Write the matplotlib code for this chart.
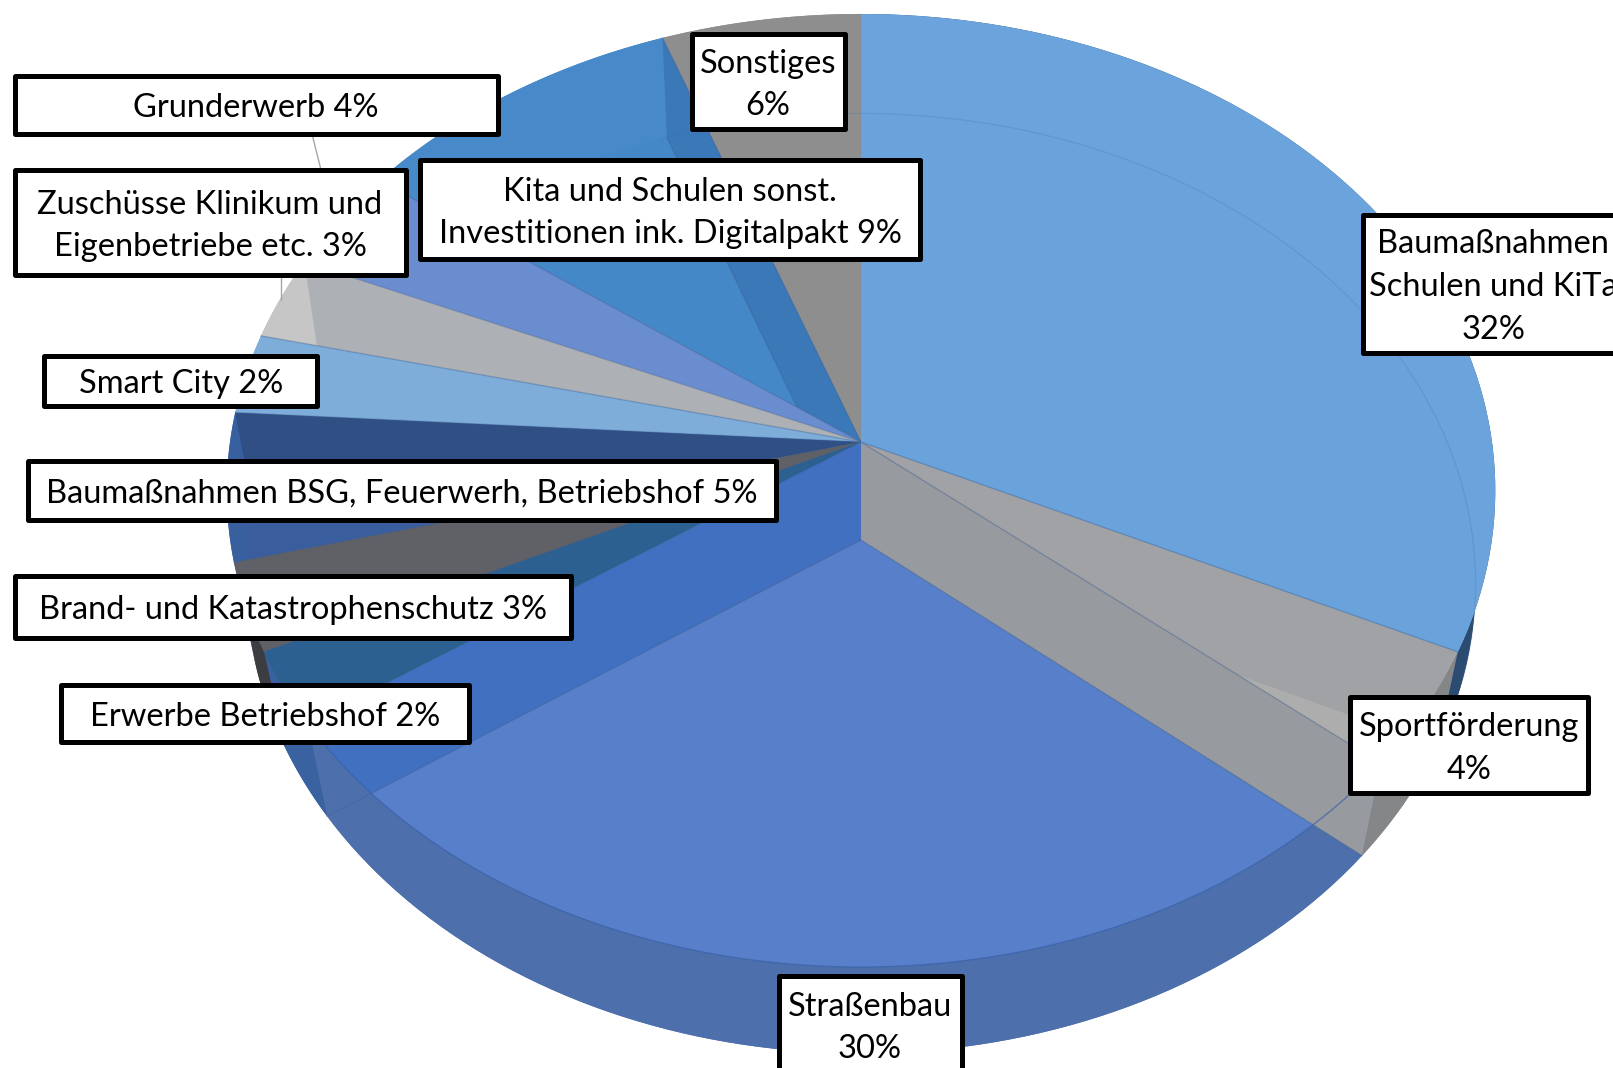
import numpy as np
import matplotlib
matplotlib.use("Agg")
import matplotlib.pyplot as plt
from matplotlib.patches import Polygon, Rectangle

# ---- data (clockwise from 12 o'clock, estimated shares)
categories = ["Baumaßnahmen Schulen und KiTa", "Sportförderung", "Straßenbau", "Erwerbe Betriebshof",
              "Brand- und Katastrophenschutz", "Baumaßnahmen BSG, Feuerwerh, Betriebshof", "Smart City",
              "Zuschüsse Klinikum und Eigenbetriebe etc.", "Grunderwerb",
              "Kita und Schulen sonst. Investitionen ink. Digitalpakt", "Sonstiges"]
values = [32, 4, 29.5, 2.5, 3, 5, 2.7, 2.8, 3.5, 9.4, 5.6]
labels = ["Baumaßnahmen\nSchulen und KiTa\n32%", "Sportförderung\n4%", "Straßenbau\n30%",
          "Erwerbe Betriebshof 2%", "Brand- und Katastrophenschutz 3%",
          "Baumaßnahmen BSG, Feuerwerh, Betriebshof 5%", "Smart City 2%",
          "Zuschüsse Klinikum und\nEigenbetriebe etc. 3%", "Grunderwerb 4%",
          "Kita und Schulen sonst.\nInvestitionen ink. Digitalpakt 9%", "Sonstiges\n6%"]

# ---- styles
main_col = ["#6aa2db", "#a0a2a6", "#4070bf", "#2b6090", "#5f6166", "#2f4f85",
            "#7eadda", "#adb0b5", "#6a8dd0", "#4588c8", "#8e8e8e"]
overlap_col = ["#6aa2db", "#adadad", "#587fc9", "#2b6090", "#5f6166", "#3a5d9e",
               "#7eadda", "#adb0b5", "#6a8dd0", "#4588c8", "#8e8e8e"]
rim_col = ["#6ba4dc", "#a0a2a6", "#4070bf", "#2b6090", "#5f6166", "#38609f",
           "#7eadda", "#c6c6c6", "#6a8dd0", "#4789c9", "#8e8e8e"]
outer_col = ["#2b4c70", "#858688", "#4d70ad", "#3a62a0", "#3c3d40", "#3f66a8",
             "#7eadda", "#adb0b5", "#6a8dd0", "#4588c8", "#8e8e8e"]
wall_col = [None, "#979a9f", None, None, None, None, None, None, None, "#3a78b8", None]
# slices whose main colour stops at the edge joining both rims
edge_main = [5, 7]

# projective discs: (cx, cy, half width, half height, perspective)
disc_a = (861, 442, 631, 471.6, 0.1018)
disc_b = (861, 540, 612, 466.0, 0.0924)

# label boxes in full-size pixels (x0, y0, x1, y1) and text centre x, y
boxes = [(1363, 215, 1640, 353), (1350, 697, 1588, 793), (779, 976, 962, 1090),
         (61, 685, 469, 742), (15, 576, 571, 638), (28, 461, 776, 520), (44, 356, 317, 406),
         (15, 170, 406, 275), (15, 76, 498, 134), (420, 160, 920, 259), (692, 34, 845, 129)]
text_x = [1493, 1469, 870, 265, 293, 402, 181, 210, 256, 670, 768]
text_y = [287, 748.5, 1028, 716.5, 610, 493.5, 384, 226, 108, 213, 85]
leaders = [((312, 134), (321, 170)), ((281, 275), (281, 300))]


def project(disc, theta):
    cx, cy, b, a, k = disc
    u, v = np.sin(theta), np.cos(theta)
    w = 1 + k * v
    return np.column_stack([cx + b * u / w, cy - a * v / w])


def wedge(disc, t0, t1):
    t = np.linspace(t0, t1, 80)
    return np.vstack([[disc[0], disc[1]], project(disc, t)])


def spoke_quad(t):
    ra, rb = project(disc_a, np.array([t])), project(disc_b, np.array([t]))
    return np.vstack([[disc_a[0], disc_a[1]], ra, rb, [disc_b[0], disc_b[1]]])


fig = plt.figure(figsize=(16.13, 10.68), dpi=100, facecolor="white")
ax = fig.add_axes([0, 0, 1, 1])
ax.set_xlim(0, 1613)
ax.set_ylim(1068, 0)
ax.axis("off")

edges = 2 * np.pi * np.concatenate([[0], np.cumsum(values)]) / sum(values)
full_b = project(disc_b, np.linspace(0, 2 * np.pi, 400))
full_a = project(disc_a, np.linspace(0, 2 * np.pi, 400))


def add(xy, fc, clip=None, z=1, ec="none", lw=0):
    p = Polygon(xy, closed=True, facecolor=fc, edgecolor=ec, linewidth=lw, zorder=z)
    ax.add_patch(p)
    if clip is not None:
        p.set_clip_path(Polygon(clip, closed=True, transform=ax.transData))
    return p


# outer side of the pie: lower disc, then the strip between both rims
for i in range(len(values)):
    add(wedge(disc_b, edges[i], edges[i + 1]), outer_col[i], z=1)
for i in range(len(values)):
    t = np.linspace(edges[i], edges[i + 1], 80)
    add(np.vstack([project(disc_a, t), project(disc_b, t[::-1])]), outer_col[i], z=1.5)

# slices, painted last to first so that each one overlaps the walls of the next
z = 2
for i in reversed(range(len(values))):
    t0, t1 = edges[i], edges[i + 1]
    wa, wb = wedge(disc_a, t0, t1), wedge(disc_b, t0, t1)
    add(wa, rim_col[i], z=z)
    if i in edge_main:
        add(spoke_quad(t1), main_col[i], clip=wa, z=z)
    else:
        add(wa, main_col[i], clip=full_b, z=z)
    add(wb, overlap_col[i], clip=wa, z=z)
    if wall_col[i]:
        add(spoke_quad(t1), wall_col[i], z=z)
    for s in (disc_a, disc_b):
        if s is disc_b and i not in (1, 2, 9):
            continue
        ax.plot(*np.vstack([[s[0], s[1]], project(s, np.array([t1]))]).T,
                color="#3f5f8f", alpha=0.35, lw=1.0, zorder=z)
    z += 1

# faint outlines where the discs show through each other
ax.plot(*full_a[int(400 * .36):int(400 * .66)].T, color="#3b62a8", alpha=.7, lw=1, zorder=z)
ax.plot(*np.vstack([full_b[int(400 * .94):], full_b[:int(400 * .30)]]).T,
        color="#3f6fa8", alpha=.2, lw=1, zorder=z)
z += 1

# leader lines and labels
for (p0, p1) in leaders:
    ax.plot([p0[0], p1[0]], [p0[1], p1[1]], color="#a6a6a6", lw=1, zorder=z)
for (x0, y0, x1, y1), tx, ty, lab in zip(boxes, text_x, text_y, labels):
    ax.add_patch(Rectangle((x0, y0), x1 - x0, y1 - y0, facecolor="white", edgecolor="black",
                           linewidth=3.6, zorder=z + 1, joinstyle="round"))
    ax.text(tx, ty, lab, ha="center", va="center", family="Lato", fontsize=23.5,
            linespacing=1.53, color="black", zorder=z + 2)

fig.savefig("out.png", dpi=100)
